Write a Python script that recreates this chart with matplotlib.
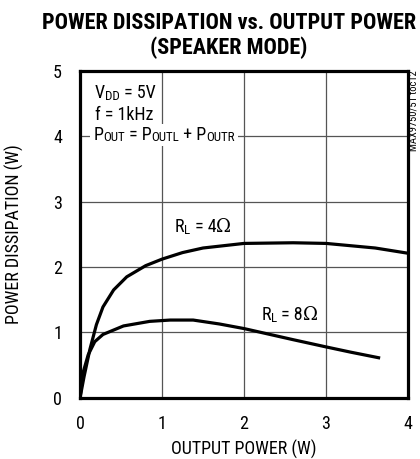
import matplotlib
matplotlib.use("Agg")
import matplotlib.pyplot as plt
import matplotlib.transforms as mtransforms
from matplotlib.patches import Rectangle

plt.rcParams['font.family'] = ['Roboto Condensed', 'DejaVu Sans']

# curve values
pout_4 = [0, 0.05, 0.12, 0.2, 0.28, 0.41, 0.57, 0.8, 1.0, 1.25, 1.5, 2.0, 2.6, 3.0, 3.6, 4.0]
pd_4 = [0, 0.33, 0.74, 1.12, 1.39, 1.65, 1.85, 2.02, 2.12, 2.22, 2.29, 2.36, 2.37, 2.36, 2.29, 2.21]
pout_8 = [0, 0.04, 0.1, 0.18, 0.28, 0.53, 0.85, 1.1, 1.38, 1.7, 2.0, 2.6, 3.0, 3.3, 3.66]
pd_8 = [0, 0.4, 0.66, 0.86, 0.97, 1.1, 1.17, 1.19, 1.19, 1.13, 1.06, 0.89, 0.78, 0.7, 0.61]

xticks = [0, 1, 2, 3, 4]
yticks = [0, 1, 2, 3, 4, 5]

fig = plt.figure(figsize=(4.2, 4.59), dpi=100)
ax = fig.add_axes([0.1905, 0.1329, 0.781, 0.7135])
renderer = fig.canvas.get_renderer()


def text_width(s, size, family):
    # width incl. trailing spaces: measure with a bar appended
    t1 = fig.text(0, 0, s + '|', fontsize=size, family=family)
    t2 = fig.text(0, 0, '|', fontsize=size, family=family)
    w = t1.get_window_extent(renderer).width - t2.get_window_extent(renderer).width
    t1.remove()
    t2.remove()
    return w


def rich_text(x, y, parts, size=13, ha='left', box=False):
    # parts: (text, kind) with kind 'n' normal, 's' subscript, 'o' omega
    pieces = []
    for s, kind in parts:
        fs = size * 0.72 if kind == 's' else size
        fam = ['DejaVu Serif'] if kind == 'o' else ['Roboto Condensed', 'DejaVu Sans']
        pieces.append((s, fs, fam, -1.5 if kind == 's' else 0, text_width(s, fs, fam)))
    total = sum(p[4] for p in pieces)
    dx = -total / 2 if ha == 'center' else 0
    arts = []
    for s, fs, fam, dy, w in pieces:
        tr = mtransforms.offset_copy(ax.transData, fig=fig, x=dx, y=dy, units='dots')
        arts.append(ax.text(x, y, s, fontsize=fs, family=fam, transform=tr,
                            va='baseline', ha='left', zorder=4))
        dx += w
    if box:
        bbs = [a.get_window_extent(renderer) for a in arts]
        bb = mtransforms.Bbox.union(bbs)
        ax.add_patch(Rectangle((bb.x0 - 3, bb.y0 - 2), bb.width + 6, bb.height + 4,
                               transform=None, facecolor='white', edgecolor='none', zorder=1))


ax.plot(pout_4, pd_4, color='black', lw=2.3, solid_capstyle='butt', zorder=3)
ax.plot(pout_8, pd_8, color='black', lw=2.3, solid_capstyle='butt', zorder=3)

ax.set_xlim(0, 4)
ax.set_ylim(0, 5)
ax.set_xticks(xticks)
ax.set_yticks(yticks)
ax.grid(True, color='#555555', lw=0.9)
ax.set_axisbelow(True)
ax.tick_params(length=0, labelsize=13, pad=13)
ax.tick_params(axis='x', pad=12)
for s in ax.spines.values():
    s.set_linewidth(2.3)
    s.set_zorder(5)

ax.set_xlabel('OUTPUT POWER (W)', fontsize=13, labelpad=5)
ax.set_ylabel('POWER DISSIPATION (W)', fontsize=13)
ax.yaxis.set_label_coords(-0.172, 0.5)

fig.text(0.545, 0.949, 'POWER DISSIPATION vs. OUTPUT POWER', ha='center', va='center',
         fontsize=16, fontweight='bold')
fig.text(0.545, 0.895, '(SPEAKER MODE)', ha='center', va='center',
         fontsize=16, fontweight='bold')

rich_text(0.18, 4.58, [('V', 'n'), ('DD', 's'), (' = 5V', 'n')])
rich_text(0.18, 4.25, [('f = 1kHz', 'n')])
rich_text(0.16, 3.94, [('P', 'n'), ('OUT', 's'), (' = P', 'n'), ('OUTL', 's'),
                       (' + P', 'n'), ('OUTR', 's')], box=True)
rich_text(1.5, 2.53, [('R', 'n'), ('L', 's'), (' = 4', 'n'), ('Ω', 'o')], ha='center')
rich_text(2.56, 1.19, [('R', 'n'), ('L', 's'), (' = 8', 'n'), ('Ω', 'o')], ha='center')

fig.text(0.984, 0.846, 'MAX9750/51 toc12', rotation=90, fontsize=7.6, ha='center', va='top')

fig.savefig('out.png', dpi=100)
